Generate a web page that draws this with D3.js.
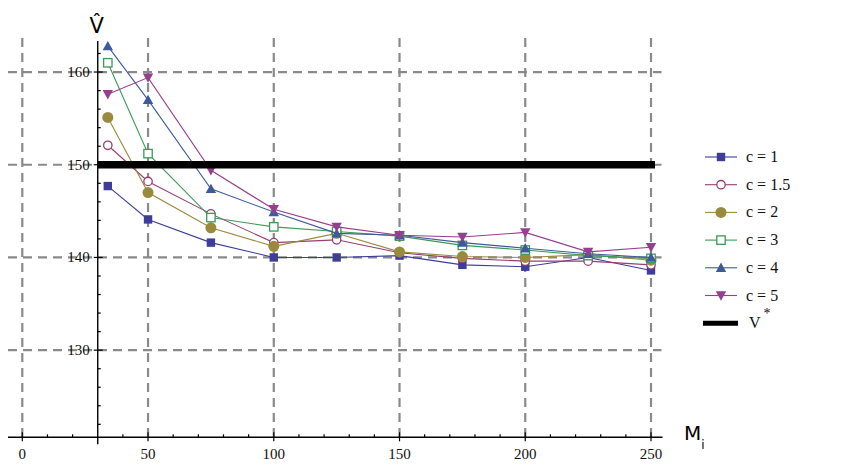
<!DOCTYPE html>
<html>
<head>
<meta charset="utf-8">
<script src="https://cdn.jsdelivr.net/npm/d3@7"></script>
<style>
  html, body { margin: 0; padding: 0; background: #ffffff; }
  svg { display: block; }
  .tick-label { font-family: "Liberation Serif", "DejaVu Serif", serif; font-size: 15px; fill: #111; }
  .legend-label { font-family: "Liberation Serif", "DejaVu Serif", serif; font-size: 16px; fill: #111; }
</style>
</head>
<body>
<svg id="chart" width="844" height="465"></svg>
<script>
// Sample sizes M_i along the x axis
const mValues = [34, 50, 75, 100, 125, 150, 175, 200, 225, 250];

// Estimated V for each value of c
const seriesC1   = [147.7, 144.1, 141.6, 140.0, 140.0, 140.2, 139.2, 139.0, 140.0, 138.6];
const seriesC1_5 = [152.1, 148.2, 144.7, 141.6, 141.9, 140.5, 139.9, 139.6, 139.6, 139.2];
const seriesC2   = [155.1, 147.0, 143.2, 141.2, 142.6, 140.6, 140.1, 140.0, 140.3, 139.7];
const seriesC3   = [161.0, 151.2, 144.3, 143.3, 142.8, 142.3, 141.3, 140.8, 140.2, 139.9];
const seriesC4   = [162.8, 157.0, 147.4, 144.9, 142.6, 142.4, 141.6, 141.0, 140.4, 140.0];
const seriesC5   = [157.6, 159.4, 149.4, 145.2, 143.3, 142.4, 142.2, 142.7, 140.6, 141.1];

// Reference level V*
const vStar = 150;

const seriesLabels = ["c = 1", "c = 1.5", "c = 2", "c = 3", "c = 4", "c = 5"];
const seriesColors = ["#3e3d99", "#993d71", "#998b3d", "#3d9956", "#3d5a99", "#993d90"];
const seriesShapes = ["square", "circle", "diamond", "openSquare", "triangleUp", "triangleDown"];

// Axis ticks
const xMajorTicks = [0, 50, 100, 150, 200, 250];
const yMajorTicks = [130, 140, 160];

const allSeries = [seriesC1, seriesC1_5, seriesC2, seriesC3, seriesC4, seriesC5];

const svg = d3.select("#chart");

const x = d3.scaleLinear().domain([0, 250]).range([22.3, 651]);
const y = d3.scaleLinear().domain([120.6, 163.1]).range([437.3, 43.3]);

const xAxisAt = 30;      // the vertical axis crosses at M = 30
const yAxisAt = y.domain()[0];

const plotLeft = 8, plotRight = 661.5;

// Dashed grid
const grid = svg.append("g").attr("stroke", "#8a8a8a").attr("stroke-width", 2.2)
  .attr("stroke-dasharray", "9,6").attr("fill", "none");
xMajorTicks.forEach(v => {
  grid.append("line").attr("x1", x(v)).attr("x2", x(v))
    .attr("y1", 38).attr("y2", y(yAxisAt));
});
yMajorTicks.concat([150]).forEach(v => {
  grid.append("line").attr("x1", plotLeft).attr("x2", plotRight)
    .attr("y1", y(v)).attr("y2", y(v));
});

// Axes
const axes = svg.append("g").attr("stroke", "#000").attr("stroke-width", 1.4);
axes.append("line").attr("x1", plotLeft).attr("x2", plotRight + 1)
  .attr("y1", y(yAxisAt)).attr("y2", y(yAxisAt));
axes.append("line").attr("x1", x(xAxisAt)).attr("x2", x(xAxisAt))
  .attr("y1", 41).attr("y2", y(yAxisAt) + 7);

// x ticks every 10 (longer on multiples of 50)
d3.range(0, 251, 10).forEach(v => {
  if (v === xAxisAt) return;
  const major = v % 50 === 0;
  axes.append("line").attr("x1", x(v)).attr("x2", x(v))
    .attr("y1", y(yAxisAt) - (major ? 5 : 3)).attr("y2", y(yAxisAt) + (major ? 4 : 0))
    .attr("stroke-width", 1.2);
});
// y ticks every 2 (longer on multiples of 10)
d3.range(122, 163, 2).forEach(v => {
  const major = v % 10 === 0;
  axes.append("line").attr("x1", x(xAxisAt) - (major ? 4 : 0)).attr("x2", x(xAxisAt) + (major ? 5 : 3))
    .attr("y1", y(v)).attr("y2", y(v)).attr("stroke-width", 1.2);
});

// Tick labels
xMajorTicks.forEach(v => {
  svg.append("text").attr("class", "tick-label").attr("x", x(v)).attr("y", y(yAxisAt) + 22)
    .attr("text-anchor", "middle").text(v);
});
yMajorTicks.concat([150]).forEach(v => {
  svg.append("text").attr("class", "tick-label").attr("x", x(xAxisAt) - 8).attr("y", y(v) + 5)
    .attr("text-anchor", "end").text(v);
});

// Axis titles
svg.append("text").attr("x", x(xAxisAt) - 1).attr("y", 33).attr("text-anchor", "middle")
  .style("font-family", "DejaVu Sans, sans-serif").style("font-size", "21px").text("V\u0302");
const mLabel = svg.append("text").attr("x", 684).attr("y", 440)
  .style("font-family", "DejaVu Sans, sans-serif").style("font-size", "20px");
mLabel.append("tspan").text("M");
mLabel.append("tspan").attr("dy", 9).style("font-size", "12px").text("i");

// Marker drawing
function drawMarker(g, shape, color, cx, cy) {
  const s = 4.2;
  switch (shape) {
    case "square":
      g.append("rect").attr("x", cx - s).attr("y", cy - s).attr("width", 2 * s).attr("height", 2 * s)
        .attr("fill", color);
      break;
    case "openSquare":
      g.append("rect").attr("x", cx - s).attr("y", cy - s).attr("width", 2 * s).attr("height", 2 * s)
        .attr("fill", "#fff").attr("stroke", color).attr("stroke-width", 1.3);
      break;
    case "circle":
      g.append("circle").attr("cx", cx).attr("cy", cy).attr("r", s)
        .attr("fill", "#fff").attr("stroke", color).attr("stroke-width", 1.3);
      break;
    case "diamond":
      g.append("path").attr("d", d3.symbol(d3.symbolCircle, 95)()).attr("transform", `translate(${cx},${cy})`)
        .attr("fill", color);
      break;
    case "triangleUp":
      g.append("path").attr("d", `M${cx},${cy - s - 1}L${cx + s + 1},${cy + s}L${cx - s - 1},${cy + s}Z`)
        .attr("fill", color);
      break;
    case "triangleDown":
      g.append("path").attr("d", `M${cx},${cy + s + 1}L${cx + s + 1},${cy - s}L${cx - s - 1},${cy - s}Z`)
        .attr("fill", color);
      break;
  }
}

// Series lines and markers
const line = d3.line().x((d, i) => x(mValues[i])).y(d => y(d));
allSeries.forEach((vals, k) => {
  const g = svg.append("g");
  g.append("path").attr("d", line(vals)).attr("fill", "none")
    .attr("stroke", seriesColors[k]).attr("stroke-width", 1.1);
  vals.forEach((v, i) => drawMarker(g, seriesShapes[k], seriesColors[k], x(mValues[i]), y(v)));
});

// V* reference line
svg.append("line").attr("x1", x(xAxisAt)).attr("x2", 655)
  .attr("y1", y(vStar)).attr("y2", y(vStar))
  .attr("stroke", "#000").attr("stroke-width", 7.5);

// Legend
const legendTop = 157, legendStep = 27.7;
const legend = svg.append("g");
seriesLabels.forEach((lab, k) => {
  const ly = legendTop + k * legendStep;
  legend.append("line").attr("x1", 705).attr("x2", 737).attr("y1", ly).attr("y2", ly)
    .attr("stroke", seriesColors[k]).attr("stroke-width", 1.1);
  drawMarker(legend, seriesShapes[k], seriesColors[k], 721, ly);
  legend.append("text").attr("class", "legend-label").attr("x", 746).attr("y", ly + 5).text(lab);
});
{
  const ly = legendTop + 6 * legendStep;
  legend.append("line").attr("x1", 703).attr("x2", 738).attr("y1", ly).attr("y2", ly)
    .attr("stroke", "#000").attr("stroke-width", 5);
  const t = legend.append("text").attr("class", "legend-label").attr("x", 749).attr("y", ly + 5);
  t.append("tspan").text("V");
  t.append("tspan").attr("dy", -10).attr("dx", 3).style("font-size", "14px").text("*");
}
</script>
</body>
</html>
